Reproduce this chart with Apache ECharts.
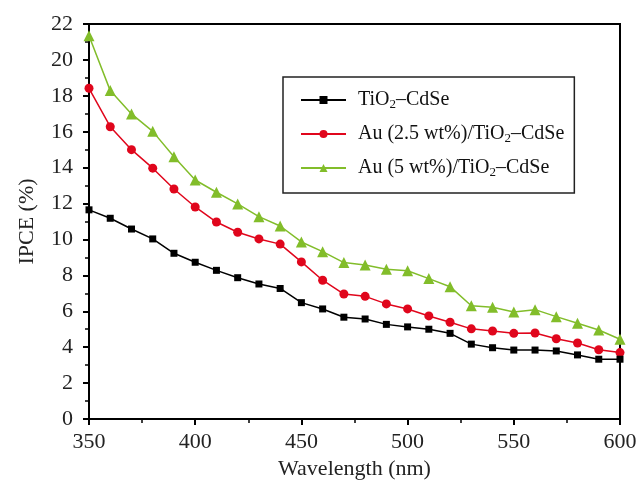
<!DOCTYPE html>
<html>
<head>
<meta charset="utf-8">
<script src="https://cdn.jsdelivr.net/npm/echarts@6/dist/echarts.min.js"></script>
<style>
  html, body { margin: 0; padding: 0; background: #fff; }
  #chart { width: 636px; height: 482px; }
</style>
</head>
<body>
<div id="chart"></div>
<script>
// Wavelength grid (nm)
const wavelengths = [350, 360, 370, 380, 390, 400, 410, 420, 430, 440, 450, 460, 470,
                     480, 490, 500, 510, 520, 530, 540, 550, 560, 570, 580, 590, 600];

// IPCE (%) for each photoanode
const ipceTiO2CdSe = [11.65, 11.18, 10.58, 10.03, 9.23, 8.73, 8.28, 7.87, 7.52, 7.27, 6.48, 6.13, 5.67,
                      5.57, 5.27, 5.13, 5.0, 4.77, 4.17, 3.97, 3.84, 3.84, 3.79, 3.57, 3.33, 3.33];
const ipceAu25 = [18.42, 16.28, 15.0, 13.97, 12.81, 11.81, 10.97, 10.4, 10.03, 9.74, 8.75, 7.73, 6.96,
                  6.83, 6.41, 6.13, 5.74, 5.39, 5.02, 4.9, 4.77, 4.79, 4.47, 4.23, 3.86, 3.7];
const ipceAu5 = [21.34, 18.29, 16.99, 16.02, 14.61, 13.31, 12.63, 11.98, 11.27, 10.75, 9.86, 9.32, 8.71,
                 8.58, 8.34, 8.26, 7.82, 7.37, 6.31, 6.22, 5.96, 6.09, 5.7, 5.33, 4.96, 4.44];

// Axis ticks
const xTicks = { min: 350, max: 600, step: 50 };
const yTicks = { min: 0, max: 22, step: 2 };

const seriesNames = ['TiO2–CdSe', 'Au (2.5 wt%)/TiO2–CdSe', 'Au (5 wt%)/TiO2–CdSe'];

const pairs = vals => wavelengths.map((w, i) => [w, vals[i]]);

const FONT = '"Liberation Serif", "Times New Roman", serif';

const chart = echarts.init(document.getElementById('chart'), null, { renderer: 'canvas' });

function lineSeries(name, values, color, symbol, size) {
  return {
    name: name,
    type: 'line',
    data: pairs(values),
    symbol: symbol,
    symbolSize: size,
    showAllSymbol: true,
    lineStyle: { color: color, width: 1.5 },
    itemStyle: { color: color, borderWidth: 0 },
    emphasis: { disabled: true },
    animation: false
  };
}

chart.setOption({
  backgroundColor: '#fff',
  animation: false,
  grid: {
    left: 89, right: 16, top: 24, bottom: 63,
    show: true, borderColor: '#000', borderWidth: 2,
    outerBoundsMode: 'none'
  },
  legend: {
    orient: 'vertical',
    left: 283, top: 77,
    padding: [12, 10, 14, 17],
    itemGap: 12,
    itemWidth: 45,
    itemHeight: 10,
    borderColor: '#222', borderWidth: 1.5,
    backgroundColor: '#fff',
    data: seriesNames,
    formatter: n => n.replace('TiO2', 'TiO{sub|2}'),
    textStyle: {
      fontFamily: FONT, fontSize: 20, color: '#111',
      padding: [0, 0, 0, 7], lineHeight: 22,
      rich: {
        sub: { fontFamily: FONT, fontSize: 13, verticalAlign: 'bottom', padding: [9, 0, 0, 0], color: '#111' }
      }
    }
  },
  xAxis: {
    type: 'value',
    min: xTicks.min, max: xTicks.max, interval: xTicks.step,
    name: 'Wavelength (nm)',
    nameLocation: 'middle',
    nameGap: 36,
    nameTextStyle: { fontFamily: FONT, fontSize: 22, color: '#222' },
    axisLine: { show: true, lineStyle: { color: '#000', width: 2 } },
    axisTick: { show: true, length: 6, lineStyle: { color: '#000', width: 2 } },
    minorTick: { show: true, splitNumber: 2, length: 4, lineStyle: { color: '#000', width: 1.5 } },
    axisLabel: { fontFamily: FONT, fontSize: 22, color: '#222', margin: 12 },
    splitLine: { show: false }
  },
  yAxis: {
    type: 'value',
    min: yTicks.min, max: yTicks.max, interval: yTicks.step,
    name: 'IPCE (%)',
    nameLocation: 'middle',
    nameGap: 51,
    nameRotate: 90,
    nameTextStyle: { fontFamily: FONT, fontSize: 22, color: '#222' },
    axisLine: { show: true, lineStyle: { color: '#000', width: 2 } },
    axisTick: { show: true, length: 6, lineStyle: { color: '#000', width: 2 } },
    minorTick: { show: true, splitNumber: 2, length: 4, lineStyle: { color: '#000', width: 1.5 } },
    axisLabel: { fontFamily: FONT, fontSize: 22, color: '#222', margin: 16 },
    splitLine: { show: false }
  },
  series: [
    lineSeries(seriesNames[2], ipceAu5, '#82bd2a', 'triangle', 11),
    lineSeries(seriesNames[1], ipceAu25, '#e0061c', 'circle', 9),
    lineSeries(seriesNames[0], ipceTiO2CdSe, '#000000', 'rect', 7)
  ]
});
</script>
</body>
</html>
